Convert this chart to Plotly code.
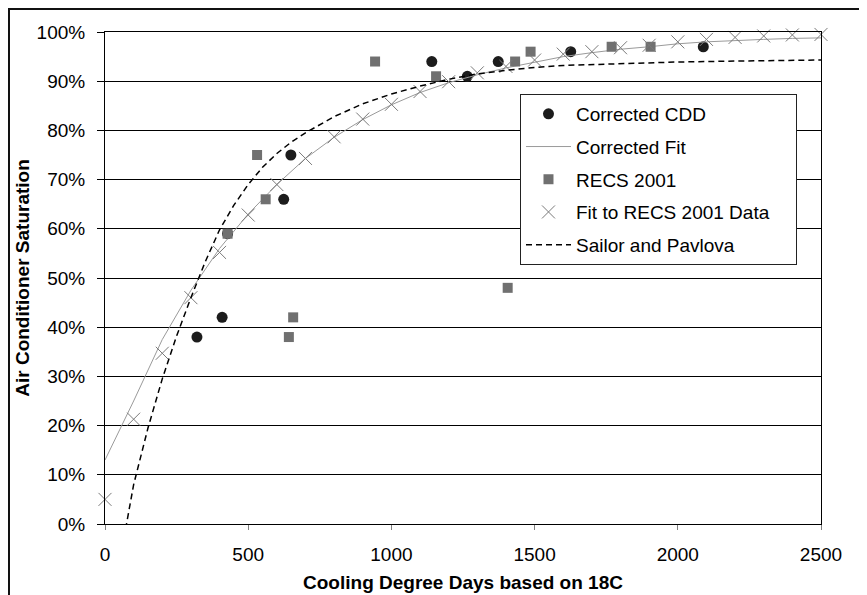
import plotly.graph_objects as go

# ---- data ----
cdd_corr_x = [321, 409, 428, 624, 649, 1141, 1265, 1373, 1626, 2089]
cdd_corr_y = [38, 42, 59, 66, 75, 94, 91, 94, 96, 97]

fit_x = [0, 100, 200, 300, 400, 500, 600, 700, 800, 900, 1000, 1100, 1200,
         1300, 1400, 1500, 1600, 1700, 1800, 1900, 2000, 2100, 2200, 2300, 2400, 2500]
corr_fit_y = [13, 25, 37.5, 47.5, 56, 63, 69, 74.3, 78.6, 82.2, 85.2, 87.7, 89.7,
              91.3, 92.7, 93.9, 95, 95.8, 96.5, 97, 97.6, 98, 98.3, 98.5, 98.7, 98.8]

recs_x = [428, 531, 561, 642, 657, 943, 1156, 1406, 1432, 1486, 1769, 1905]
recs_y = [59, 75, 66, 38, 42, 94, 91, 48, 94, 96, 97, 97]

recs_fit_y = [5, 21.3, 34.7, 46, 55.2, 62.8, 69, 74.3, 78.7, 82.3, 85.3, 87.9, 89.9,
              91.7, 93, 94.3, 95.5, 96, 96.8, 97.3, 98, 98.5, 98.9, 99.2, 99.4, 99.5]

sp_x = [72, 100, 150, 200, 250, 300, 350, 400, 450, 500, 550, 600, 650, 700, 800,
        900, 1000, 1100, 1200, 1300, 1400, 1500, 1600, 1800, 2000, 2200, 2500]
sp_y = [-1, 8, 19.5, 29.5, 38.2, 46, 53.3, 59.8, 64.8, 69, 72.5, 75.3, 77.6, 79.5, 82.8,
        85.4, 87.4, 89, 90.4, 91.5, 92.2, 92.8, 93.2, 93.6, 93.9, 94.1, 94.3]

x_ticks = [0, 500, 1000, 1500, 2000, 2500]
y_ticks = [0, 10, 20, 30, 40, 50, 60, 70, 80, 90, 100]

FONT = "Liberation Sans, Arial, sans-serif"
FS = 19
NB = "\u00a0"

fig = go.Figure()
fig.add_trace(go.Scatter(x=cdd_corr_x, y=cdd_corr_y, mode="markers", name="Corrected CDD",
                         legendgroup="a",
                         marker=dict(symbol="circle", size=11, color="#1c1c1c")))
fig.add_trace(go.Scatter(x=fit_x, y=corr_fit_y, mode="lines", name="Corrected Fit",
                         legendgroup="b",
                         line=dict(color="#9a9a9a", width=1)))
fig.add_trace(go.Scatter(x=recs_x, y=recs_y, mode="markers", name="RECS 2001",
                         legendgroup="c",
                         marker=dict(symbol="square", size=10, color="#707070")))
fig.add_trace(go.Scatter(x=fit_x, y=recs_fit_y, mode="markers",
                         name="Fit to RECS 2001 Data" + NB * 4,
                         legendgroup="d", cliponaxis=False,
                         marker=dict(symbol="x-thin-open", size=13, color="#7a7a7a",
                                     line=dict(color="#7a7a7a", width=1))))
fig.add_trace(go.Scatter(x=sp_x, y=sp_y, mode="lines", name="Sailor and Pavlova",
                         legendgroup="e",
                         line=dict(color="#000000", width=1.5, dash="6px,4px")))

# page body has an 8px margin: figure spans page px 8..867 / 8..595
fig.update_layout(
    width=859, height=587,
    margin=dict(l=97, r=46, t=24, b=71, autoexpand=False),
    paper_bgcolor="white", plot_bgcolor="white",
    font=dict(family=FONT, size=FS, color="#000000"),
    showlegend=True,
    legend=dict(x=0.5796, y=0.874, xanchor="left", yanchor="top",
                bgcolor="white", bordercolor="#222222", borderwidth=1,
                font=dict(family=FONT, size=FS, color="#000000"),
                tracegroupgap=5, itemwidth=45, traceorder="grouped"),
    shapes=[dict(type="rect", xref="paper", yref="paper",
                 x0=-0.1341, x1=1.2, y0=-0.3, y1=1.0467,
                 line=dict(color="#111111", width=2), layer="below")],
)

fig.update_xaxes(
    range=[0, 2500], tickvals=x_ticks, ticktext=[str(v) for v in x_ticks],
    showgrid=False, zeroline=False, automargin=False,
    showline=True, linecolor="#000000", linewidth=1, mirror=True,
    ticks="outside", ticklen=5, tickcolor="#808080", tickwidth=1,
    ticklabelstandoff=8,
    tickfont=dict(family=FONT, size=FS, color="#000000"),
    title=dict(text="<b>Cooling Degree Days based on 18C</b>", standoff=11,
               font=dict(family=FONT, size=FS, color="#000000")),
)
fig.update_yaxes(
    range=[0, 100], tickvals=y_ticks, ticktext=[f"{v}%" for v in y_ticks],
    showgrid=True, gridcolor="#000000", gridwidth=1, zeroline=False, automargin=False,
    showline=True, linecolor="#000000", linewidth=1, mirror=True,
    ticks="outside", ticklen=7, tickcolor="#000000", tickwidth=1,
    ticklabelstandoff=8,
    tickfont=dict(family=FONT, size=FS, color="#000000"),
    title=dict(text="<b>Air Conditioner Saturation</b>", standoff=1,
               font=dict(family=FONT, size=FS, color="#000000")),
)

fig.write_html("out.html")
